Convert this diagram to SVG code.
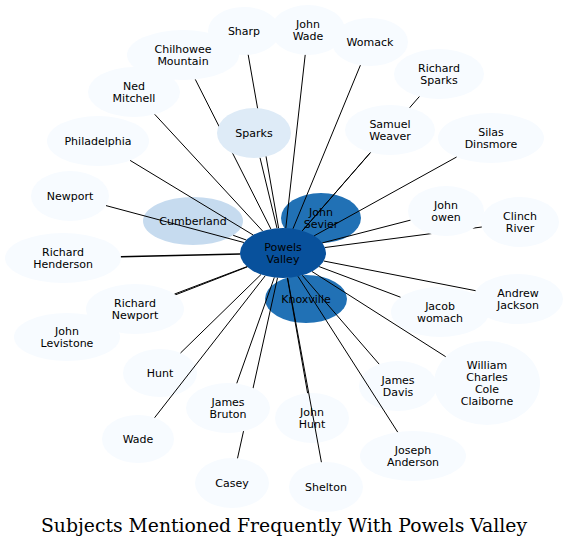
<svg xmlns="http://www.w3.org/2000/svg" width="568" height="548" viewBox="0 0 568 548">
<style>
.n1{fill:#f7fbff}
.n2{fill:#deebf7}
.n3{fill:#c6dbef}
.n7{fill:#2171b5}
.n8{fill:#08519c}
text{font-family:"DejaVu Sans","Noto Sans",sans-serif;font-size:11px;text-anchor:middle;fill:#000}
.title{font-family:"DejaVu Serif","Liberation Serif",serif;font-size:18.8px}
#edges line{stroke:#000;stroke-width:1;fill:none}
</style>
<rect width="568" height="548" fill="#fff"/>
<g id="nodes">
<g id="sharp"><ellipse class="n1" cx="244" cy="31" rx="36" ry="24"/><text x="244" y="35">Sharp</text></g>
<g id="john_wade"><ellipse class="n1" cx="308" cy="30" rx="37" ry="25"/><text x="308" y="28">John</text><text x="308" y="40">Wade</text></g>
<g id="womack"><ellipse class="n1" cx="370" cy="42" rx="38" ry="24"/><text x="370" y="46">Womack</text></g>
<g id="richard_sparks"><ellipse class="n1" cx="439" cy="74" rx="45" ry="25"/><text x="439" y="72">Richard</text><text x="439" y="84">Sparks</text></g>
<g id="silas_dinsmore"><ellipse class="n1" cx="491" cy="138" rx="53" ry="25"/><text x="491" y="136">Silas</text><text x="491" y="148">Dinsmore</text></g>
<g id="chilhowee_mountain"><ellipse class="n1" cx="183" cy="55" rx="56" ry="25"/><text x="183" y="53">Chilhowee</text><text x="183" y="65">Mountain</text></g>
<g id="ned_mitchell"><ellipse class="n1" cx="134" cy="92" rx="46" ry="25"/><text x="134" y="90">Ned</text><text x="134" y="102">Mitchell</text></g>
<g id="philadelphia"><ellipse class="n1" cx="98" cy="141" rx="51" ry="25"/><text x="98" y="145">Philadelphia</text></g>
<g id="newport"><ellipse class="n1" cx="70" cy="196" rx="39" ry="25"/><text x="70" y="200">Newport</text></g>
<g id="clinch_river"><ellipse class="n1" cx="520" cy="222" rx="39" ry="25"/><text x="520" y="220">Clinch</text><text x="520" y="232">River</text></g>
<g id="richard_henderson"><ellipse class="n1" cx="63" cy="258" rx="58" ry="25"/><text x="63" y="256">Richard</text><text x="63" y="268">Henderson</text></g>
<g id="john_levistone"><ellipse class="n1" cx="67" cy="337" rx="53" ry="24"/><text x="67" y="335">John</text><text x="67" y="347">Levistone</text></g>
<g id="jacob_womach"><ellipse class="n1" cx="440" cy="312" rx="49" ry="25"/><text x="440" y="310">Jacob</text><text x="440" y="322">womach</text></g>
<g id="andrew_jackson"><ellipse class="n1" cx="518" cy="299" rx="45" ry="25"/><text x="518" y="297">Andrew</text><text x="518" y="309">Jackson</text></g>
<g id="hunt"><ellipse class="n1" cx="160" cy="373" rx="37" ry="24"/><text x="160" y="377">Hunt</text></g>
<g id="john_hunt"><ellipse class="n1" cx="312" cy="418" rx="37" ry="25"/><text x="312" y="416">John</text><text x="312" y="428">Hunt</text></g>
<g id="james_davis"><ellipse class="n1" cx="398" cy="386" rx="39" ry="25"/><text x="398" y="384">James</text><text x="398" y="396">Davis</text></g>
<g id="william_charles_cole_claiborne"><ellipse class="n1" cx="487" cy="383" rx="53" ry="42"/><text x="487" y="369">William</text><text x="487" y="381">Charles</text><text x="487" y="393">Cole</text><text x="487" y="405">Claiborne</text></g>
<g id="wade"><ellipse class="n1" cx="138" cy="439" rx="36" ry="24"/><text x="138" y="443">Wade</text></g>
<g id="casey"><ellipse class="n1" cx="232" cy="483" rx="37" ry="25"/><text x="232" y="487">Casey</text></g>
<g id="shelton"><ellipse class="n1" cx="326" cy="487" rx="37" ry="25"/><text x="326" y="491">Shelton</text></g>
<g id="joseph_anderson"><ellipse class="n1" cx="413" cy="456" rx="53" ry="25"/><text x="413" y="454">Joseph</text><text x="413" y="466">Anderson</text></g>
<g id="cumberland"><ellipse class="n3" cx="193" cy="221" rx="50" ry="24"/><text x="193" y="225">Cumberland</text></g>
<g id="john_sevier"><ellipse class="n7" cx="321" cy="218" rx="40" ry="25"/><text x="321" y="216">John</text><text x="321" y="228">Sevier</text></g>
<g id="knoxville"><ellipse class="n7" cx="306" cy="299" rx="41" ry="24"/><text x="306" y="303">Knoxville</text></g>
<g id="powels_valley"><ellipse class="n8" cx="283" cy="253" rx="43" ry="25"/><text x="283" y="251">Powels</text><text x="283" y="263">Valley</text></g>
</g>
<g id="edges">
<line x1="278.6" y1="228.1" x2="248.2" y2="54.8"/>
<line x1="285.8" y1="228.0" x2="305.2" y2="54.9"/>
<line x1="293.0" y1="228.7" x2="360.4" y2="65.2"/>
<line x1="302.4" y1="230.7" x2="419.4" y2="96.5"/>
<line x1="302.4" y1="230.7" x2="370.4" y2="152.5"/>
<line x1="314.2" y1="235.8" x2="456.6" y2="157.0"/>
<line x1="270.9" y1="229.0" x2="195.3" y2="79.4"/>
<line x1="262.6" y1="231.0" x2="154.7" y2="114.3"/>
<line x1="277.0" y1="228.2" x2="260.0" y2="157.7"/>
<line x1="253.2" y1="235.0" x2="130.1" y2="160.4"/>
<line x1="243.9" y1="242.5" x2="106.0" y2="205.6"/>
<line x1="246.3" y1="240.0" x2="233.2" y2="235.3"/>
<line x1="322.3" y1="242.9" x2="410.6" y2="220.1"/>
<line x1="325.0" y1="247.5" x2="481.8" y2="227.0"/>
<line x1="240.0" y1="254.0" x2="120.9" y2="256.7" style="stroke-width:1.6"/>
<line x1="247.0" y1="266.6" x2="174.4" y2="294.1"/>
<line x1="247.3" y1="266.9" x2="107.2" y2="321.4"/>
<line x1="319.1" y1="266.6" x2="400.5" y2="297.2"/>
<line x1="323.7" y1="261.0" x2="475.6" y2="290.7"/>
<line x1="261.0" y1="274.5" x2="180.5" y2="353.0"/>
<line x1="274.3" y1="277.5" x2="236.7" y2="383.5"/>
<line x1="287.4" y1="277.9" x2="307.6" y2="393.2"/>
<line x1="302.3" y1="275.3" x2="379.1" y2="364.1"/>
<line x1="312.0" y1="271.5" x2="445.7" y2="356.7"/>
<line x1="265.2" y1="275.8" x2="154.6" y2="417.7"/>
<line x1="277.5" y1="277.8" x2="237.5" y2="458.3"/>
<line x1="287.6" y1="277.9" x2="321.4" y2="462.2"/>
<line x1="298.0" y1="276.4" x2="397.7" y2="432.1"/>
</g>
<g id="nodes_top">
<g id="sparks"><ellipse class="n2" cx="254" cy="133" rx="37" ry="25"/><text x="254" y="137">Sparks</text></g>
<g id="samuel_weaver"><ellipse class="n1" cx="390" cy="130" rx="45" ry="25"/><text x="390" y="128">Samuel</text><text x="390" y="140">Weaver</text></g>
<g id="john_owen"><ellipse class="n1" cx="446" cy="211" rx="38" ry="25"/><text x="446" y="209">John</text><text x="446" y="221">owen</text></g>
<g id="james_bruton"><ellipse class="n1" cx="228" cy="408" rx="42" ry="25"/><text x="228" y="406">James</text><text x="228" y="418">Bruton</text></g>
<g id="richard_newport"><ellipse class="n1" cx="135" cy="309" rx="49" ry="25"/><text x="135" y="307">Richard</text><text x="135" y="319">Newport</text></g>
</g>
<text class="title" x="284" y="532">Subjects Mentioned Frequently With Powels Valley</text>
</svg>
